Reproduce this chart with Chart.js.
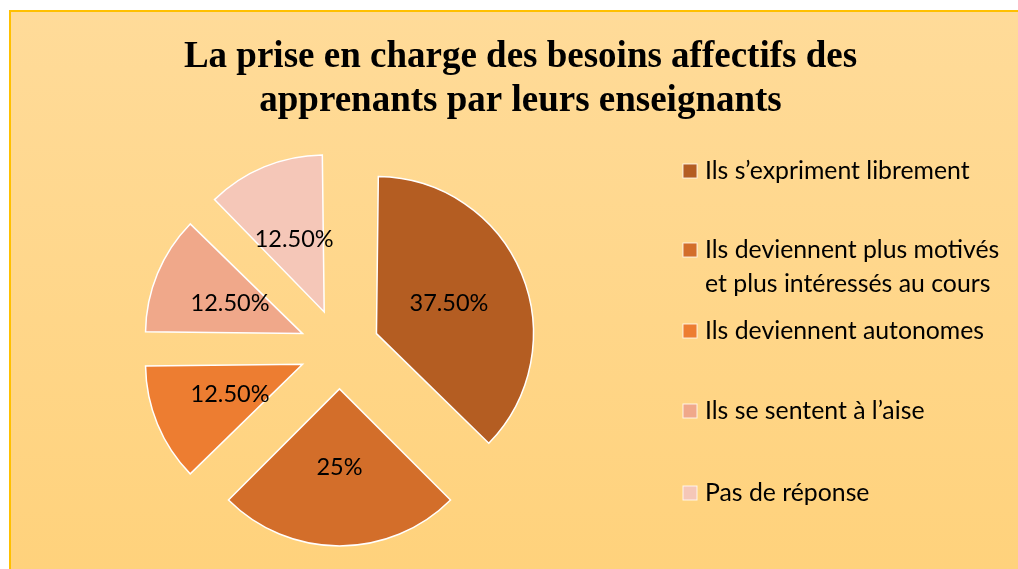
<!DOCTYPE html>
<html>
<head>
<meta charset="utf-8">
<script src="https://cdn.jsdelivr.net/npm/chart.js@4"></script>
<style>
  html, body { margin: 0; padding: 0; background: #fff; }
  #graf { display: block; }
</style>
</head>
<body>
<canvas id="graf" width="1018" height="569"></canvas>
<script>
// Données
const categories = [
    'Ils s\u2019expriment librement',
    ['Ils deviennent plus motivés', 'et plus intéressés au cours'],
    'Ils deviennent autonomes',
    'Ils se sentent à l\u2019aise',
    'Pas de réponse'
];
const valeurs = [37.5, 25, 12.5, 12.5, 12.5];
const couleurs = ['#B45D22', '#D36E2A', '#ED7D31', '#F0A88A', '#F5C7B8'];
const titre = ['La prise en charge des besoins affectifs des', 'apprenants par leurs enseignants'];

const RAYON = 157;      // rayon du camembert
const DECALAGE = 160;   // offset chart.js (translation = offset / 4)

// format Excel : 37.50%, 25%, 12.50%
function formatPct(v) {
    return Number.isInteger(v) ? v + '%' : v.toFixed(2) + '%';
}

// Fond dégradé + cadre doré
const fondPlugin = {
    id: 'fond',
    beforeDraw(chart) {
        const { ctx, width, height } = chart;
        ctx.save();
        ctx.fillStyle = '#ffffff';
        ctx.fillRect(0, 0, width, height);
        const grad = ctx.createLinearGradient(0, 11, 0, height);
        grad.addColorStop(0, '#FFDB99');
        grad.addColorStop(1, '#FFD27C');
        ctx.fillStyle = grad;
        ctx.fillRect(10, 11, width - 10, height - 11);
        ctx.strokeStyle = '#FFC000';
        ctx.lineWidth = 2;
        ctx.beginPath();
        ctx.moveTo(10, height);
        ctx.lineTo(10, 11);
        ctx.lineTo(width, 11);
        ctx.stroke();
        ctx.restore();
    }
};

// Garde le même rayon pour toutes les parts malgré l'offset
const rayonPlugin = {
    id: 'rayonFixe',
    beforeDatasetsDraw(chart) {
        chart.getDatasetMeta(0).data.forEach(arc => {
            const o = (arc.options.offset || 0) / 4;
            const fix = 1 - Math.sin(Math.min(Math.PI, arc.circumference));
            arc.outerRadius = RAYON - o * fix;
        });
    }
};

// Étiquettes de pourcentage dans les parts
const etiquettesPlugin = {
    id: 'etiquettes',
    afterDatasetsDraw(chart) {
        const { ctx } = chart;
        const meta = chart.getDatasetMeta(0);
        ctx.save();
        ctx.font = '23.5px Lato';
        ctx.fillStyle = '#000';
        ctx.textAlign = 'center';
        ctx.textBaseline = 'middle';
        meta.data.forEach((arc, i) => {
            const mid = (arc.startAngle + arc.endAngle) / 2;
            const r = (arc.options.offset || 0) / 4 + RAYON / 2;
            ctx.fillText(formatPct(valeurs[i]), arc.x + Math.cos(mid) * r, arc.y + Math.sin(mid) * r);
        });
        ctx.restore();
    }
};

// Légende à droite, placée comme une boîte du layout de Chart.js
const legendePlugin = {
    id: 'legendeDroite',
    beforeInit(chart) {
        const lignes = [179, 258, 339, 419, 501]; // lignes de base des entrées
        const box = {
            position: 'right',
            weight: 0,
            fullSize: false,
            options: {},
            left: 0, top: 0, right: 0, bottom: 0, width: 0, height: 0,
            isHorizontal() { return false; },
            update(maxWidth, maxHeight) {
                this.width = 362;
                this.height = maxHeight;
            },
            draw() {
                const { ctx } = chart;
                ctx.save();
                ctx.font = '24.8px Lato';
                ctx.textBaseline = 'alphabetic';
                ctx.textAlign = 'left';
                categories.forEach((lab, i) => {
                    const yb = lignes[i];
                    ctx.fillStyle = couleurs[i];
                    ctx.fillRect(this.left + 27, yb - 15, 14, 14);
                    ctx.strokeStyle = 'rgba(255,255,255,0.8)';
                    ctx.lineWidth = 1;
                    ctx.strokeRect(this.left + 27, yb - 15, 14, 14);
                    ctx.fillStyle = '#000';
                    const txt = Array.isArray(lab) ? lab : [lab];
                    txt.forEach((t, k) => ctx.fillText(t, this.left + 49, yb + k * 34));
                });
                ctx.restore();
            }
        };
        Chart.layouts.addBox(chart, box);
    }
};

new Chart(document.getElementById('graf'), {
    type: 'pie',
    data: {
        labels: categories,
        datasets: [{
            data: valeurs,
            backgroundColor: couleurs,
            borderColor: '#ffffff',
            borderWidth: 1.5,
            borderJoinStyle: 'miter',
            offset: DECALAGE,
            radius: RAYON
        }]
    },
    options: {
        responsive: false,
        animation: false,
        devicePixelRatio: 1,
        layout: {
            padding: { left: 23, right: 0, top: 0, bottom: 5 }
        },
        plugins: {
            legend: { display: false },
            tooltip: { enabled: false },
            title: {
                display: true,
                text: titre,
                color: '#000',
                font: { family: 'Liberation Serif', size: 37, weight: 'bold', lineHeight: 1.2 },
                padding: { top: 35, bottom: 10 }
            }
        }
    },
    plugins: [fondPlugin, rayonPlugin, etiquettesPlugin, legendePlugin]
});
</script>
</body>
</html>
